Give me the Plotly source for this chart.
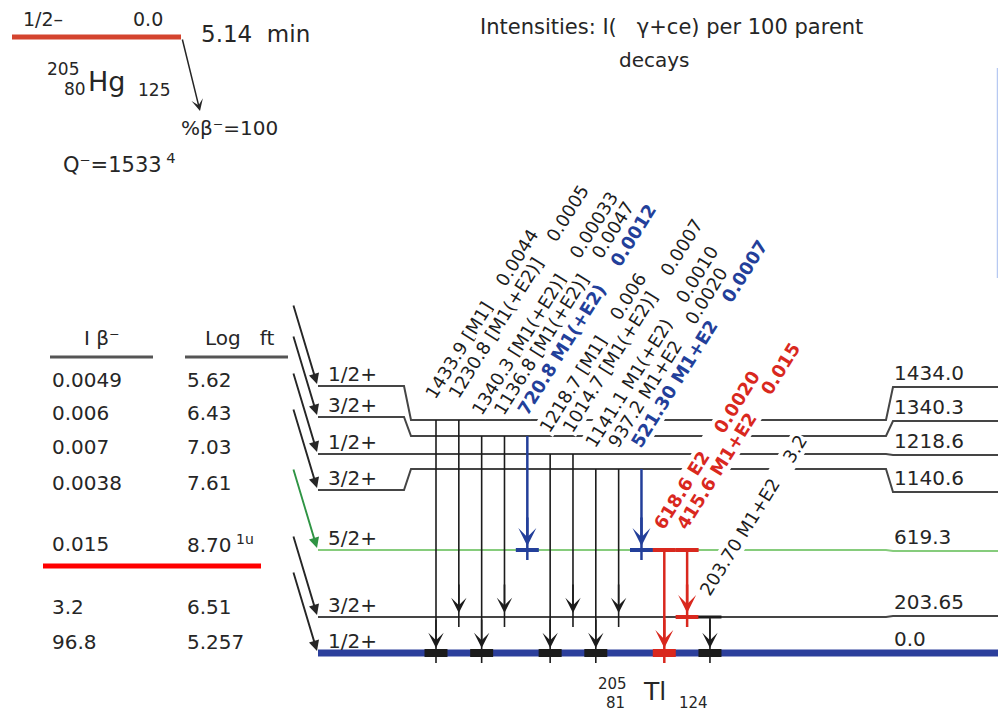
import math
import plotly.graph_objects as go

# ---------------- 205Hg -> 205Tl (beta-minus) decay data ----------------
parent_spin = "1/2–"
parent_level = "0.0"
parent_halflife = "5.14\u00a0\u00a0min"
parent_branch = "%β⁻=100"
parent_q = "Q⁻=1533"
parent_q_unc = "4"

level_energy = [1434.0, 1340.3, 1218.6, 1140.6, 619.3, 203.65, 0.0]
level_energy_text = ["1434.0", "1340.3", "1218.6", "1140.6", "619.3", "203.65", "0.0"]
level_spin = ["1/2+", "3/2+", "1/2+", "3/2+", "5/2+", "3/2+", "1/2+"]
beta_intensity = ["0.0049", "0.006", "0.007", "0.0038", "0.015", "3.2", "96.8"]
log_ft = ["5.62", "6.43", "7.03", "7.61", "8.70", "6.51", "5.257"]
log_ft_note = ["", "", "", "", "1u", "", ""]

gamma_energy = ["1433.9", "1230.8", "1340.3", "1136.8", "720.8", "1218.7", "1014.7",
                "1141.1", "937.2", "521.30", "618.6", "415.6", "203.70"]
gamma_mult = ["[M1]", "[M1(+E2)]", "[M1(+E2)]", "[M1(+E2)]", "M1(+E2)", "[M1]", "[M1(+E2)]",
              "M1(+E2)", "M1+E2", "M1+E2", "E2", "M1+E2", "M1+E2"]
gamma_intensity = ["0.0044", "0.0005", "0.00033", "0.0047", "0.0012", "0.006", "0.0007",
                   "0.0010", "0.0020", "0.0007", "0.0020", "0.015", "3.2"]
gamma_from = [1434.0, 1434.0, 1340.3, 1340.3, 1340.3, 1218.6, 1218.6,
              1140.6, 1140.6, 1140.6, 619.3, 619.3, 203.65]
gamma_to = [0.0, 203.65, 0.0, 203.65, 619.3, 0.0, 203.65,
            0.0, 203.65, 619.3, 0.0, 203.65, 0.0]

# ---------------- drawing styles and schematic layout ----------------
FONT = "DejaVu Sans"
INK = "#262626"
LEVEL_GREY = "#454545"
GREEN_LINE = "#86cc7c"
GREEN_ARROW = "#2f9444"
GROUND_BLUE = "#2c3f9c"
COLOURS = {"k": "#1c1c1c", "b": "#233f9a", "r": "#d9281e"}
gamma_style = ["k", "k", "k", "k", "b", "k", "k", "k", "k", "b", "r", "r", "k"]
level_style = ["k", "k", "k", "k", "g", "k", "ground"]

# vertical placement of each level row (schematic, not to scale)
row_left = [386, 417, 454, 490, 550, 617, 653]
row_mid = [420, 436, 454, 469, 550, 617, 653]
row_right = [387, 421, 455, 492, 551, 616, 653]
table_row = [380, 413, 447, 483, 544, 607, 642]

X_LEVEL0, X_STEP_L0, X_STEP_L1 = 318, 404, 411
X_STEP_R0, X_STEP_R1, X_END = 886, 893, 998
GAMMA_X0, GAMMA_DX = 436, 22.83

fig = go.Figure()


def seg(xs, ys, color, width):
    fig.add_trace(go.Scatter(x=xs, y=ys, mode="lines", hoverinfo="skip", showlegend=False,
                             line=dict(color=color, width=width)))


def txt(x, y, s, size, color=INK, xanchor="left", yanchor="middle", **kw):
    fig.add_annotation(x=x, y=y, xref="x", yref="y", text=s, showarrow=False,
                       xanchor=xanchor, yanchor=yanchor,
                       font=dict(family=FONT, size=size, color=color), **kw)


def arrow(x0, y0, x1, y1, color, width, head, size):
    fig.add_annotation(x=x1, y=y1, ax=x0, ay=y0, xref="x", yref="y", axref="x", ayref="y",
                       text="", showarrow=True, arrowhead=head, arrowwidth=width,
                       arrowsize=size, arrowcolor=color, standoff=0)


def lvl(e):
    return level_energy.index(e)


# ---------------- daughter levels ----------------
for i, e in enumerate(level_energy):
    xs = [X_LEVEL0, X_STEP_L0, X_STEP_L1, X_STEP_R0, X_STEP_R1, X_END]
    ys = [row_left[i], row_left[i], row_mid[i], row_mid[i], row_right[i], row_right[i]]
    if level_style[i] == "ground":
        seg(xs, ys, GROUND_BLUE, 7)
    elif level_style[i] == "g":
        seg(xs, ys, GREEN_LINE, 2)
    else:
        seg(xs, ys, LEVEL_GREY, 2)
    txt(X_LEVEL0 + 8, row_left[i] - 12, level_spin[i], 20)
    txt(X_STEP_R1 - 1, row_right[i] - 14, level_energy_text[i], 20)

# ---------------- gamma transitions ----------------
gamma_x = [GAMMA_X0 + k * GAMMA_DX for k in range(len(gamma_energy))]
BAR = 11.5
for k in range(len(gamma_energy)):
    i, j = lvl(gamma_from[k]), lvl(gamma_to[k])
    gx = gamma_x[k]
    col = COLOURS[gamma_style[k]]
    heavy = gamma_style[k] != "k"
    lw = 2.5 if heavy else 1.6
    top, bot = row_mid[i], row_mid[j]
    seg([gx, gx], [top, bot + 10], col, lw)
    tip = bot - (5 if level_style[j] == "ground" else 4)
    if heavy:
        arrow(gx, tip - 30, gx, tip, col, 2.5, 3, 1.2)
    else:
        arrow(gx, tip - 30, gx, tip, col, 1.6, 3, 1.6)
    # markers on the levels the transition connects
    if level_style[j] == "ground":
        seg([gx - BAR, gx + BAR], [bot, bot], col, 8)
    elif heavy:
        seg([gx - BAR, gx + BAR], [bot, bot], col, 4)
    if level_style[i] == "g" or gamma_from[k] == 203.65:
        seg([gx - BAR, gx + BAR], [top, top], col, 4 if heavy else 3)

# rotated transition labels, knocked out of the level lines behind them
ANG = 58.0
S, C = math.sin(math.radians(ANG)), math.cos(math.radians(ANG))
LBL_FS = 18
for k in range(len(gamma_energy)):
    i = lvl(gamma_from[k])
    gx = gamma_x[k]
    col = COLOURS[gamma_style[k]]
    body = f"{gamma_energy[k]}\u00a0{gamma_mult[k]}" + "\u00a0" * 4 + gamma_intensity[k]
    if gamma_style[k] != "k":
        body = f"<b>{body}</b>"
    bx, by = gx - 1, row_mid[i] - 19
    desc = 0.3 * LBL_FS
    hbox = 1.3 * LBL_FS
    fig.add_annotation(x=bx + desc * S - hbox * S, y=by + desc * C, xref="x", yref="y",
                       text=body, showarrow=False, textangle=-ANG,
                       xanchor="left", yanchor="bottom", bgcolor="white", borderpad=0,
                       font=dict(family=FONT, size=LBL_FS, color=col))

# ---------------- beta feeding ----------------
for i in range(len(level_energy)):
    c = GREEN_ARROW if level_style[i] == "g" else INK
    arrow(293, row_left[i] - 82, X_LEVEL0 - 1, row_left[i] - 2, c, 1.9, 2, 1.1)

# table of beta intensities and log ft
txt(102, 338, "I β⁻", 20, xanchor="center")
txt(239, 338, "Log\u00a0\u00a0\u00a0ft", 20, xanchor="center")
seg([50, 153], [357, 357], "#555555", 3)
seg([185, 288], [357, 357], "#555555", 3)
for i in range(len(level_energy)):
    txt(50, table_row[i], beta_intensity[i], 20)
    lab = log_ft[i]
    if log_ft_note[i]:
        lab += f"<sup>\u00a0{log_ft_note[i]}</sup>"
    txt(185, table_row[i], lab, 20)
seg([43, 261], [566, 566], "#ff0000", 5)

# ---------------- parent level ----------------
seg([12, 181], [37, 37], "#d4442e", 5)
txt(21, 19, parent_spin, 19)
txt(131, 19, parent_level, 19)
txt(199, 34, parent_halflife, 23)
arrow(182, 38, 200, 111, INK, 1.5, 3, 1.3)
txt(45, 69, "205", 17)
txt(62, 89, "80", 17)
txt(86, 81, "Hg", 27)
txt(136, 90, "125", 17)
txt(179, 128, parent_branch, 20)
txt(61, 163, parent_q + f"<sup>\u00a0{parent_q_unc}</sup>", 21)

# ---------------- daughter nucleus ----------------
txt(596, 683.5, "205", 15)
txt(604, 703, "81", 15)
txt(641, 691, "Tl", 25)
txt(677, 703, "124", 15)

# ---------------- heading ----------------
txt(478, 27, "Intensities: I(\u00a0\u00a0\u00a0γ+ce) per 100 parent", 21)
txt(617, 60, "decays", 20)

seg([997.5, 997.5], [68, 278], "#b7c9f2", 1.5)

fig.update_layout(
    width=998, height=713,
    margin=dict(l=0, r=0, t=0, b=0),
    paper_bgcolor="white", plot_bgcolor="white",
    xaxis=dict(range=[0, 998], visible=False, fixedrange=True),
    yaxis=dict(range=[713, 0], visible=False, fixedrange=True),
    showlegend=False,
)

fig.write_html("out.html", config={"displayModeBar": False})
